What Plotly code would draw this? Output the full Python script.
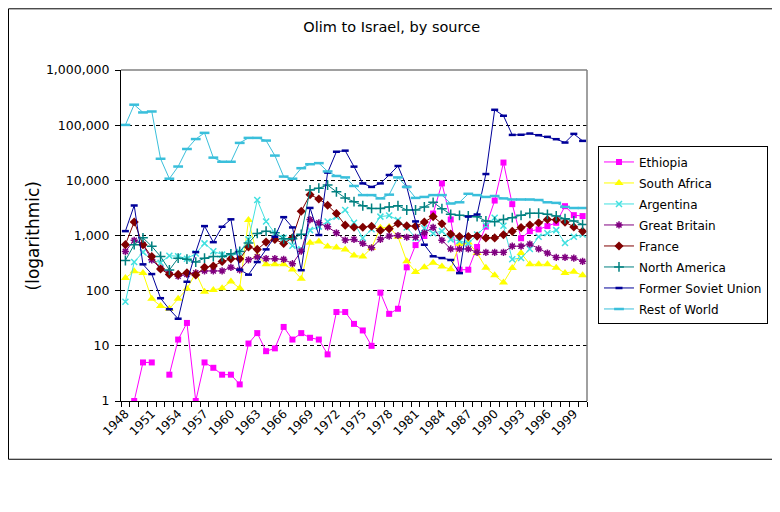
import plotly.graph_objects as go

# Olim to Israel by source, 1948-2000
years = list(range(1948, 2001))

ethiopia = [None, 1, 5, 5, None, 3, 13, 26, 1, 5,
            4, 3, 3, 2, 11, 17, 8, 9, 22, 13,
            17, 14, 13, 7, 41, 41, 25, 19, 10, 92,
            38, 47, 265, 670, 980, 2500, 8800, 1950, 240, 240,
            620, 1450, 4300, 21000, 3700, 890, 1200, 1290, 1480, 1700,
            3400, 2340, 2250]
south_africa = [170, 224, 208, 71, 53, 47, 71, 108, 210, 96,
                103, 111, 147, 111, 1900, 424, 300, 300, 300, 243,
                165, 740, 780, 635, 608, 558, 436, 415, 596, 1380,
                1420, 950, 340, 218, 265, 320, 275, 245, 700, 750,
                480, 260, 190, 140, 257, 480, 300, 300, 300, 260,
                210, 220, 190]
argentina = [63, 330, 500, 360, 320, 430, 420, 380, 470, 720,
             520, 450, 420, 500, 850, 4400, 1800, 1100, 900, 650,
             560, 1250, 1450, 1800, 2200, 2900, 1700, 900, 1300, 2200,
             2300, 1900, 1400, 900, 1350, 1100, 1200, 850, 800, 720,
             1040, 1520, 2100, 1500, 370, 390, 570, 950, 1100, 1250,
             730, 950, 1040]
great_britain = [515, 820, 683, 362, 253, 211, 183, 197, 211, 228,
                 228, 228, 265, 237, 362, 410, 380, 380, 370, 308,
                 520, 1945, 1695, 1435, 1117, 825, 850, 717, 600, 850,
                 975, 1000, 930, 930, 1120, 1400, 820, 570, 570, 570,
                 495, 495, 495, 495, 640, 640, 700, 570, 480, 400,
                 400, 390, 340]
france = [683, 1760, 683, 416, 247, 197, 197, 211, 192, 265,
          280, 337, 377, 377, 618, 560, 760, 850, 717, 910,
          2750, 5500, 4600, 3540, 2500, 1540, 1415, 1415, 1475, 1230,
          1320, 1650, 1500, 1470, 1750, 2200, 1630, 1060, 960, 960,
          975, 905, 905, 1030, 1190, 1390, 1550, 1700, 1950, 1930,
          1740, 1430, 1190]
north_america = [352, 683, 906, 636, 416, 237, 388, 372, 330, 388,
                 416, 416, 466, 515, 733, 1090, 1200, 1120, 870, 870,
                 1050, 6700, 7200, 8200, 6200, 4800, 4100, 3460, 3100, 3100,
                 3300, 3460, 2900, 2900, 3300, 4000, 3070, 2420, 2320, 2260,
                 2190, 1830, 1780, 1960, 2100, 2320, 2530, 2530, 2420, 2260,
                 2020, 1830, 1590]
former_soviet_union = [1200, 3500, 300, 200, 73, 46, 31, 145, 500, 1480,
                       757, 1440, 1965, 240, 195, 330, 560, 950, 2150, 1400,
                       235, 3160, 1020, 13800, 33000, 34500, 17700, 8800, 7600, 8800,
                       12500, 18200, 7600, 1800, 680, 420, 390, 360, 208, 2200,
                       2400, 13000, 190000, 148000, 66600, 67000, 70500, 65800, 61400, 55700,
                       48400, 69500, 51900]
rest_of_world = [101000, 235000, 170000, 177000, 24600, 10700, 17800, 37000, 56000, 72500,
                 25800, 21700, 21700, 47700, 58800, 58800, 52600, 28100, 11700, 10700,
                 16600, 19600, 20500, 14500, 12000, 11300, 7900, 5400, 5400, 4700,
                 5500, 11300, 7600, 4800, 5000, 5400, 5400, 3800, 4000, 5700,
                 5400, 5000, 5200, 4700, 4500, 4500, 4500, 4400, 4000, 3900,
                 3300, 3150, 3150]

y_ticks = [1, 10, 100, 1000, 10000, 100000, 1000000]
y_labels = ['1', '10', '100', '1,000', '10,000', '100,000', '1,000,000']
x_ticks = years[::3]

# name, values, colour, marker symbol, marker size
series = [
    ('Ethiopia', ethiopia, '#FF00FF', 'square', 6),
    ('South Africa', south_africa, '#FFFF00', 'triangle-up', 8),
    ('Argentina', argentina, '#40E0E0', 'x-thin-open', 6),
    ('Great Britain', great_britain, '#800080', 'asterisk-open', 6),
    ('France', france, '#800000', 'diamond', 7),
    ('North America', north_america, '#008080', 'cross-thin-open', 7),
    ('Former Soviet Union', former_soviet_union, '#000099', 'line-ew-open', 5),
    ('Rest of World', rest_of_world, '#3ABFDB', 'line-ew-open', 7),
]

fig = go.Figure()
for name, vals, col, sym, size in series:
    marker = dict(symbol=sym, size=size, color=col)
    if sym.endswith('-open'):
        marker['line'] = dict(color=col, width=1.5 if 'line' not in sym else 2.5)
    else:
        marker['line'] = dict(width=0)
    fig.add_trace(go.Scatter(
        x=years, y=vals, name=name, mode='lines+markers',
        legendgroup=name,  # own group each, so tracegroupgap spaces the rows
        line=dict(color=col, width=1),
        marker=marker,
    ))

# page body has an 8px margin, so the figure is sized to fit the window
fig.update_layout(
    width=772, height=504,
    paper_bgcolor='white', plot_bgcolor='white',
    margin=dict(l=113, r=193, t=62, b=111),
    font=dict(family='DejaVu Sans', size=12, color='black'),
    title=dict(text='Olim to Israel, by source', font=dict(size=14.5),
               xref='container', x=0.497, xanchor='center',
               yref='container', y=0.962, yanchor='middle'),
    showlegend=True,
    legend=dict(x=1.0236, y=0.769, xanchor='left', yanchor='top',
                bordercolor='black', borderwidth=1, bgcolor='white',
                font=dict(size=12), tracegroupgap=2),
    xaxis=dict(
        range=[1947.5, 2000.5],
        tickmode='array', tickvals=x_ticks, ticktext=[str(y) for y in x_ticks],
        tickangle=-45, ticks='', showgrid=False, zeroline=False,
        showline=True, linecolor='black', linewidth=1,
        tickfont=dict(size=12),
        minor=dict(tickmode='linear', tick0=1947.5, dtick=1, ticks='outside',
                   ticklen=5, tickcolor='black', showgrid=False),
    ),
    yaxis=dict(
        type='log', range=[0, 6],
        tickmode='array', tickvals=y_ticks, ticktext=y_labels,
        ticks='outside', ticklen=5, tickcolor='black',
        showgrid=True, gridcolor='black', gridwidth=1, griddash='4px,3px',
        showline=True, linecolor='black', linewidth=1, zeroline=False,
        tickfont=dict(size=12.5), ticklabelstandoff=3,
    ),
    annotations=[dict(text='(logarithmic)', xref='paper', yref='paper',
                      x=-0.189, y=0.5, xanchor='center', yanchor='middle',
                      textangle=-90, showarrow=False, font=dict(size=17))],
    shapes=[
        # grey frame on top/right of plot area
        dict(type='line', xref='paper', yref='paper', x0=0, x1=1, y0=1, y1=1,
             line=dict(color='#808080', width=1.5)),
        dict(type='line', xref='paper', yref='paper', x0=1, x1=1, y0=0, y1=1,
             line=dict(color='#808080', width=1.5)),
        # chart border
        dict(type='rect', xref='paper', yref='paper', x0=-0.2414, x1=1.399,
             y0=-0.176, y1=1.1849, line=dict(color='black', width=1)),
    ],
)

fig.write_html('out.html')
